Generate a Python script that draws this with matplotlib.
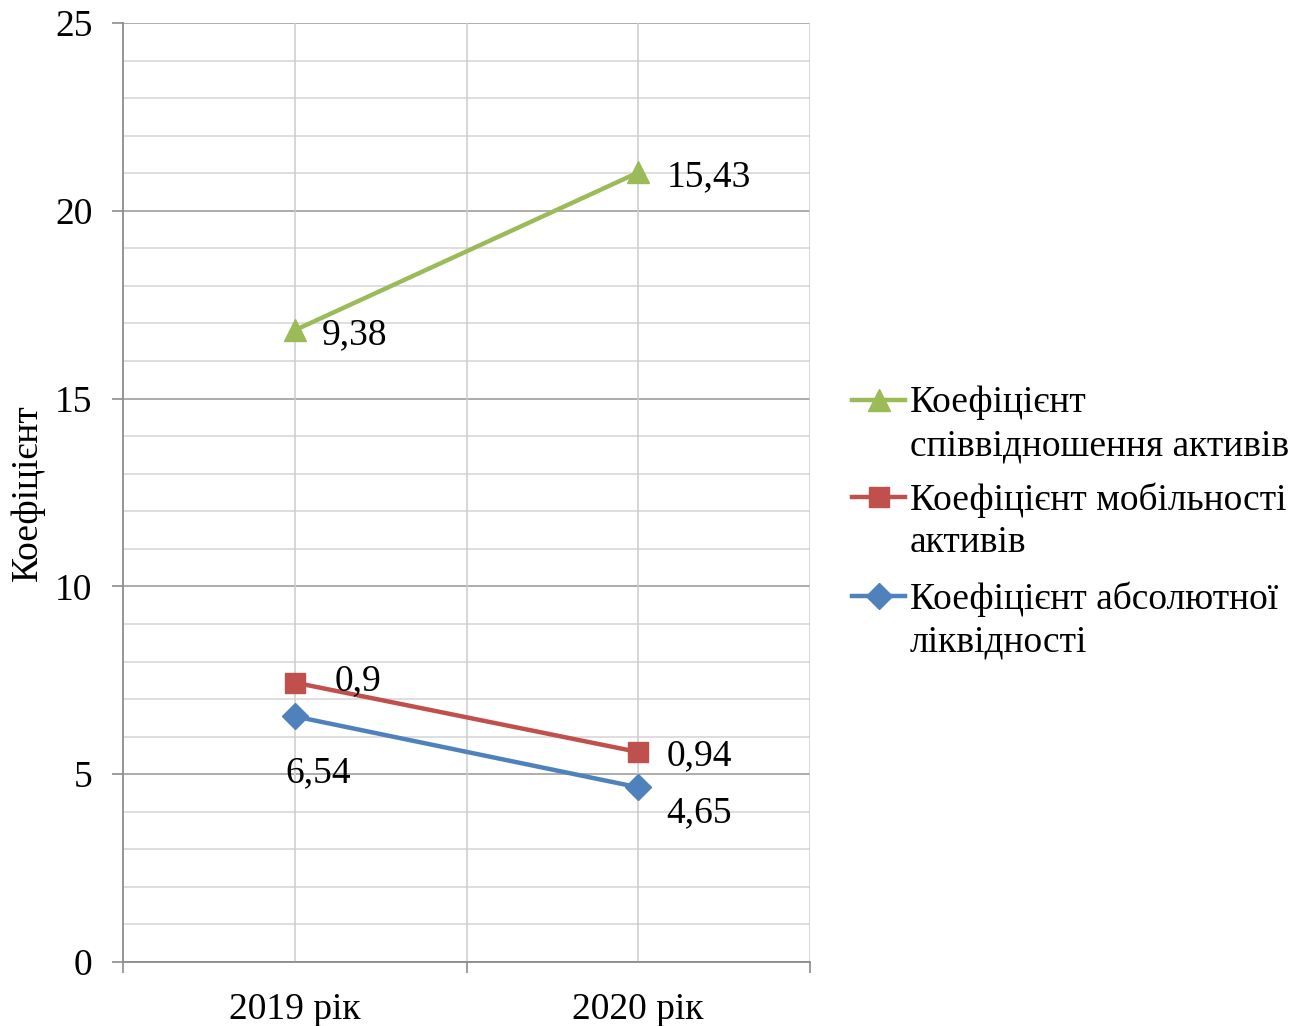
import numpy as np
import matplotlib
matplotlib.use("Agg")
import matplotlib.pyplot as plt
from matplotlib.lines import Line2D

plt.rcParams['font.family'] = ['Liberation Serif', 'DejaVu Serif']

years = ["2019 рік", "2020 рік"]
series_names = [
    "Коефіцієнт абсолютної\nліквідності",
    "Коефіцієнт мобільності\nактивів",
    "Коефіцієнт\nспіввідношення активів",
]
liquidity = [6.54, 4.65]
mobility = [0.90, 0.94]
asset_ratio = [9.38, 15.43]
colors = ["#4F81BD", "#C0504D", "#9BBB59"]
markers = ["D", "s", "^"]
marker_sizes = [13, 15, 16]

# stacked line: each series sits on top of the previous ones
values = np.array([liquidity, mobility, asset_ratio])
stacked = np.cumsum(values, axis=0)

W, H = 1307, 1026
fig = plt.figure(figsize=(W / 100, H / 100), dpi=100)
ax = fig.add_axes([123 / W, 1 - 962 / H, (810 - 123) / W, (962 - 23) / H])

x = np.arange(len(years))
FS = 27

# gridlines
for yv in range(0, 26):
    major = yv % 5 == 0
    ax.axhline(yv, color="#a6a6a6" if major else "#d4d4d4",
               lw=1.3 if major else 1.1, zorder=0)
for xv in [0, 0.5, 1, 1.5]:
    ax.axvline(xv, color="#cccccc", lw=1.1, zorder=0)

# label offsets in pixels (dx, dy) per series/point
label_pos = [
    [(-9, -57), (28, -26)],
    [(40, 2), (28, -4)],
    [(27, -5), (28, -4)],
]

for i in range(3):
    ax.plot(x, stacked[i], color=colors[i], lw=3.2, marker=markers[i],
            markersize=marker_sizes[i], markeredgecolor=colors[i], zorder=3)
    for j in range(len(years)):
        dx, dy = label_pos[i][j]
        ax.annotate(f"{values[i][j]:g}".replace(".", ","),
                    (x[j], stacked[i][j]), xytext=(dx * 0.72, dy * 0.72),
                    textcoords="offset points", ha="left", va="center",
                    fontsize=FS, color="black", zorder=4)

ax.set_xlim(-0.5, 1.5)
ax.set_ylim(0, 25)
ax.set_yticks(range(0, 26, 5))
ax.set_xticks([-0.5, 0.5, 1.5])
ax.set_xticklabels([])
ax.set_xticks(x, minor=True)
ax.set_xticklabels(years, minor=True)
ax.tick_params(axis="x", which="major", length=8, color="#8c8c8c", width=1.2)
ax.tick_params(axis="x", which="minor", length=0, pad=22, labelsize=FS)
ax.tick_params(axis="y", length=8, color="#8c8c8c", width=1.2, labelsize=FS, pad=14)
for s in ["top", "right"]:
    ax.spines[s].set_visible(False)
for s in ["left", "bottom"]:
    ax.spines[s].set_color("#8c8c8c")
    ax.spines[s].set_linewidth(1.3)

fig.text(28 / W, 1 - 493 / H, "Коефіцієнт", rotation=90, ha="center",
         va="center", fontsize=FS)

# legend
legend_rows = [(2, 400), (1, 497), (0, 596)]
for idx, ytop in legend_rows:
    fy = 1 - ytop / H
    fig.add_artist(Line2D([852 / W, 905 / W], [fy, fy], color=colors[idx],
                          lw=3.2, transform=fig.transFigure))
    fig.add_artist(Line2D([879 / W], [fy], color=colors[idx],
                          marker=markers[idx], markersize=marker_sizes[idx],
                          markeredgecolor=colors[idx], transform=fig.transFigure))
    lines = series_names[idx].split("\n")
    for k, t in enumerate(lines):
        fig.text(910 / W, 1 - (ytop + 3 + 43 * k) / H, t, ha="left", va="center",
                 fontsize=FS)

fig.savefig("out.png", dpi=100)
